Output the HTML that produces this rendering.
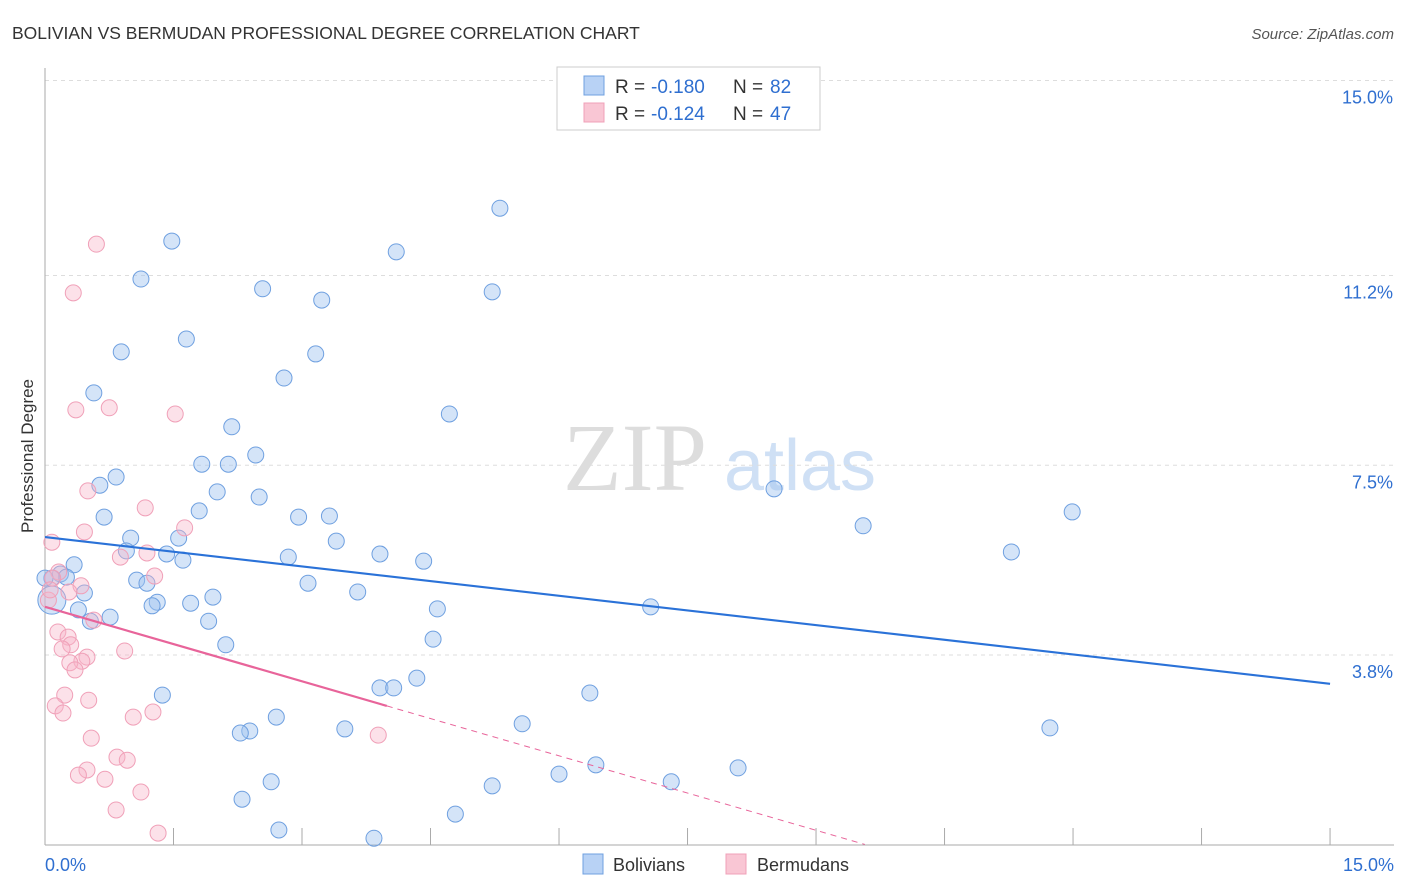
<!DOCTYPE html>
<html><head><meta charset="utf-8"><style>
body{margin:0;background:#fff;width:1406px;height:892px;overflow:hidden;font-family:"Liberation Sans",sans-serif}
svg{position:absolute;left:0;top:0}
</style></head><body>
<svg id="chart" width="1406" height="892">
<text x="12" y="39" font-size="17.5" fill="#333">BOLIVIAN VS BERMUDAN PROFESSIONAL DEGREE CORRELATION CHART</text>
<text x="1394" y="39" font-size="15" fill="#555" font-style="italic" text-anchor="end">Source: ZipAtlas.com</text>
<text x="0" y="0" transform="translate(33,456) rotate(-90)" font-size="17" fill="#333" text-anchor="middle">Professional Degree</text>
<g>
<text x="635" y="490" font-size="96" fill="#ddd" font-family="Liberation Serif,serif" text-anchor="middle">ZIP</text>
<text x="800" y="490" font-size="72" fill="#cfe0f5" text-anchor="middle">atlas</text>
</g>
<g id="grid"></g><g id="axes"></g><g id="pts"></g><g id="lines"></g>
<g>
<rect x="557" y="67" width="263" height="63" fill="#fff" stroke="#ccc"/>
<rect x="584" y="76" width="20" height="19" fill="#b8d2f5" stroke="#6fa0e0"/>
<rect x="584" y="103" width="20" height="19" fill="#f9c6d4" stroke="#f0a0b8"/>
<text x="615" y="93" font-size="19" fill="#333">R =</text>
<text x="651" y="93" font-size="19" fill="#2f6fd0">-0.180</text>
<text x="733" y="93" font-size="19" fill="#333">N =</text>
<text x="770" y="93" font-size="19" fill="#2f6fd0">82</text>
<text x="615" y="120" font-size="19" fill="#333">R =</text>
<text x="651" y="120" font-size="19" fill="#2f6fd0">-0.124</text>
<text x="733" y="120" font-size="19" fill="#333">N =</text>
<text x="770" y="120" font-size="19" fill="#2f6fd0">47</text>
</g>
<g>
<rect x="583" y="854" width="20" height="20" fill="#b8d2f5" stroke="#6fa0e0"/>
<text x="613" y="871" font-size="18" fill="#333">Bolivians</text>
<rect x="726" y="854" width="20" height="20" fill="#f9c6d4" stroke="#f0a0b8"/>
<text x="757" y="871" font-size="18" fill="#333">Bermudans</text>
</g>
</svg>
<script>
const yTicks=[3.8,7.5,11.2,15.0];
const yTickLabels=["3.8%","7.5%","11.2%","15.0%"];
const xTickLabels=["0.0%","15.0%"];
const bolX=[1.48,1.12,5.31,4.10,2.54,3.23,5.22,1.65,0.89,3.16,2.79,0.57,4.72,2.18,1.83,2.14,2.46,0.83,0.64,2.01,2.50,8.51,1.80,0.69,2.96,3.32,11.99,9.55,1.00,1.56,3.40,0.95,1.42,1.61,2.84,3.91,11.28,4.42,0.34,0.18,0.25,0.08,1.07,1.19,3.07,3.65,0.46,1.96,1.31,1.25,1.70,0.39,4.58,7.07,0.76,0.53,1.91,4.53,2.11,4.34,3.91,4.07,1.37,6.36,2.70,5.57,2.39,2.28,3.50,11.73,6.43,8.09,6.00,7.31,2.64,5.22,2.30,4.79,2.73,3.84,0.08,0.0];
const bolY=[11.87,11.13,12.51,11.66,10.94,10.72,10.88,9.96,9.71,9.67,9.20,8.91,8.50,8.25,7.52,7.52,7.70,7.27,7.11,6.98,6.88,7.04,6.61,6.49,6.49,6.51,6.59,6.32,6.08,6.08,6.02,5.83,5.77,5.65,5.71,5.77,5.81,5.63,5.56,5.38,5.32,5.30,5.26,5.20,5.20,5.03,5.01,4.93,4.83,4.76,4.81,4.68,4.70,4.74,4.54,4.46,4.46,4.11,4.00,3.35,3.16,3.16,3.02,3.06,2.59,2.46,2.32,2.28,2.36,2.38,1.66,1.60,1.48,1.33,1.33,1.25,0.99,0.70,0.39,0.23,4.87,5.30];
const berX=[0.60,0.33,0.75,0.36,1.52,0.50,1.17,0.46,1.63,0.08,1.19,0.88,1.28,0.16,0.09,0.42,0.28,0.57,0.15,0.27,0.30,0.20,0.93,0.49,0.43,0.29,0.35,0.23,0.51,0.12,0.21,1.26,1.03,3.89,0.54,0.84,0.96,0.49,0.39,0.70,1.12,0.83,1.32,0.04,0.06];
const berY=[11.81,10.86,8.62,8.58,8.50,7.00,6.67,6.20,6.28,6.00,5.79,5.71,5.34,5.42,5.30,5.15,5.03,4.48,4.25,4.15,4.00,3.92,3.88,3.76,3.68,3.65,3.51,3.02,2.92,2.81,2.67,2.69,2.59,2.24,2.18,1.81,1.75,1.56,1.46,1.38,1.13,0.78,0.33,4.87,5.07];
const bolTrend=[6.10,3.24];
const berTrend=[4.74,-0.484,3.99,9.57];

const NS="http://www.w3.org/2000/svg";
const X=v=>45+v*85.67, Y=v=>850-v*51.3;
function mk(tag,parent,attrs){const e=document.createElementNS(NS,tag);for(const k in attrs)e.setAttribute(k,attrs[k]);document.getElementById(parent).appendChild(e);return e;}
yTicks.forEach((t,i)=>{
  const g=mk('line','grid',{x1:45,x2:1394,y1:Y(t),y2:Y(t),stroke:'#ddd','stroke-dasharray':'4,4'});
  
  
  const l=mk('text','grid',{x:1393,y:Y(t)+23,'font-size':18,fill:'#2f6fd0','text-anchor':'end'});
  l.textContent=yTickLabels[i];
  
  
});
const ax=mk('line','axes',{x1:45,x2:45,y1:68,y2:845,stroke:'#aaa'});


const bx=mk('line','axes',{x1:45,x2:1394,y1:845,y2:845,stroke:'#aaa'});


for(let i=1;i<=10;i++){
  const t=mk('line','axes',{x1:X(i*1.5),x2:X(i*1.5),y1:828,y2:845,stroke:'#aaa'});
  
  
}
[[0,'start',45],[15,'end',1394]].forEach((a,i)=>{
  const l=mk('text','axes',{x:a[2],y:871,'font-size':18,fill:'#2f6fd0','text-anchor':a[1]});
  l.textContent=xTickLabels[i];
  
  
});
bolX.forEach((v,i)=>{
  const c=mk('circle','pts',{cx:X(v),cy:Y(bolY[i]),r:i==80?14:8,fill:'rgba(160,196,240,0.45)',stroke:'#6fa0e0','stroke-width':1});
  
  
});
berX.forEach((v,i)=>{
  const c=mk('circle','pts',{cx:X(v),cy:Y(berY[i]),r:8,fill:'rgba(248,180,200,0.4)',stroke:'#f0a0b8','stroke-width':1});
  
  
});
const bl=mk('line','lines',{x1:X(0),y1:Y(bolTrend[0]),x2:X(15),y2:Y(bolTrend[1]),stroke:'#2a72d8','stroke-width':2.2});


const pf=x=>berTrend[0]+berTrend[1]*x;
const pl=mk('line','lines',{x1:X(0),y1:Y(pf(0)),x2:X(berTrend[2]),y2:Y(pf(berTrend[2])),stroke:'#e8649a','stroke-width':2.2});


const pd=mk('line','lines',{x1:X(berTrend[2]),y1:Y(pf(berTrend[2])),x2:X(berTrend[3]),y2:Y(pf(berTrend[3])),stroke:'#e8649a','stroke-width':1,'stroke-dasharray':'6,5'});


</script>
</body></html>
